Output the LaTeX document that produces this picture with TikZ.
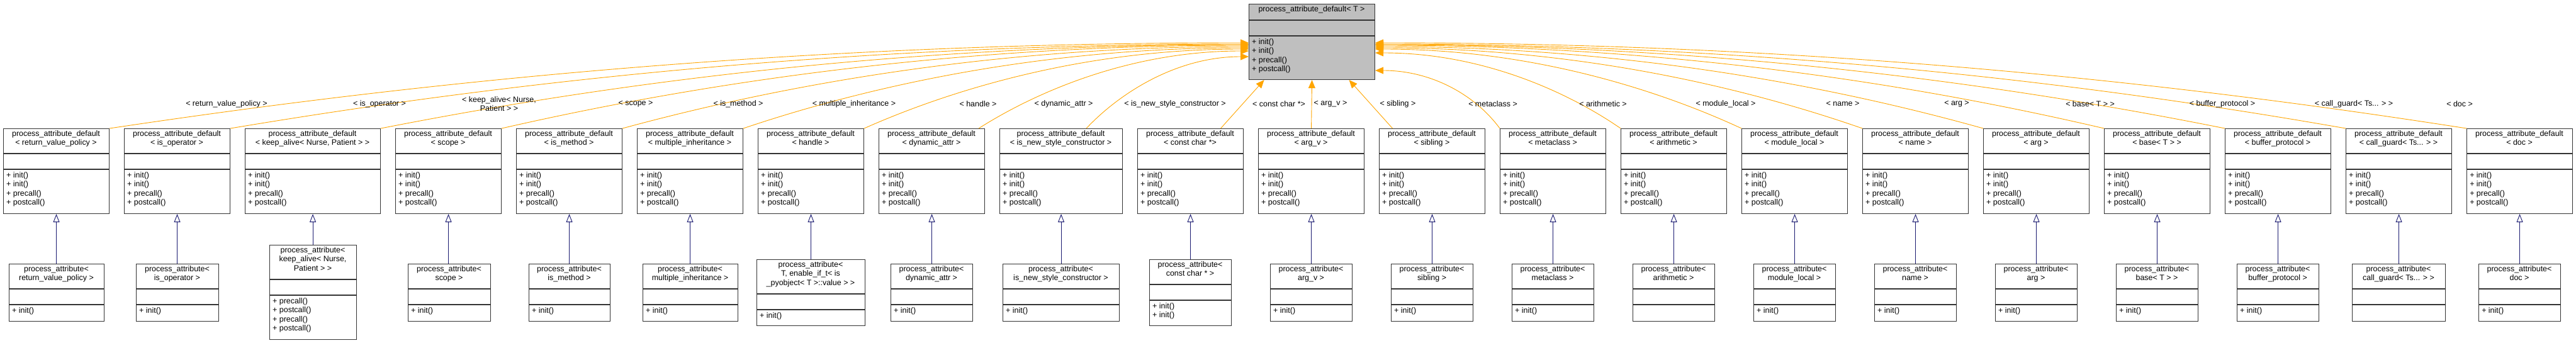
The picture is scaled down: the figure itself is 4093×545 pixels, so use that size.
\documentclass[tikz,border=0pt]{standalone}
\usepackage{fontspec}
\setmainfont{Liberation Sans}
\usetikzlibrary{arrows.meta,calc}

\definecolor{depcolor}{RGB}{255,165,0}
\definecolor{inhcolor}{RGB}{25,25,112}

% one class box: style, name, left, top, right, bottom, rule, title, members
\newcommand{\umlclass}[9]{%
  \node[#1, anchor=north west, minimum width={(#5-#3)*1bp}, minimum height={(#6-#4)*1bp}] (#2) at (#3,#4) {};
  \draw[rule] (#3,#7) -- (#5,#7) (#3,{#7+25}) -- (#5,{#7+25});
  \node[classtitle] (#2-t) at ({(#3+#5)/2},{#4+1}) {#8};
  \node[classops] (#2-m) at ({#3+3},{#7+27}) {#9};
}
\newcommand{\allops}{+ init()\\+ init()\\+ precall()\\+ postcall()}
% orange edges into the left and right side of the base box
\newcommand{\depL}[3]{%
  \draw[dep] (#1) .. controls ({#2+0.2*(1984-#2)},150) and ({1984-0.45*(1984-#2)},#3) .. ([yshift={-(#3-6)*1bp}]main.north west);
}
\newcommand{\depR}[3]{%
  \draw[dep] (#1) .. controls ({#2-0.2*(#2-2184)},150) and ({2184+0.45*(#2-2184)},#3) .. ([yshift={-(#3-6)*1bp}]main.north east);
}

\begin{document}
\begin{tikzpicture}[x=1bp, y=-1bp,
    font=\fontsize{12.5}{14.5}\selectfont,
    box/.style={draw=black!80, line width=1.1bp, fill=white, inner sep=0},
    basebox/.style={box, fill=black!25},
    rule/.style={draw=black!80, line width=1.1bp},
    classtitle/.style={anchor=north, align=center, inner sep=2bp},
    classops/.style={anchor=north west, align=left, inner sep=2bp},
    dep/.style={draw=depcolor, line width=0.9bp, -{Triangle[length=13bp, width=11bp, fill=depcolor]}},
    inh/.style={draw=inhcolor, line width=0.9bp, -{Triangle[open, length=13bp, width=10bp, fill=white]}},
    elabel/.style={align=center, inner sep=1bp}
  ]
  \useasboundingbox (0,0) rectangle (4093,545);

  % base template
  \umlclass{basebox}{main}{1984}{6}{2184}{126}{32}{process\_attribute\_default< T >}{\allops}

  % specialisations
  \umlclass{box}{p-rvp}{5}{204}{173}{339}{244}{process\_attribute\_default\\< return\_value\_policy >}{\allops}
  \umlclass{box}{p-isop}{197}{204}{365}{339}{244}{process\_attribute\_default\\< is\_operator >}{\allops}
  \umlclass{box}{p-keep}{389}{204}{604}{339}{244}{process\_attribute\_default\\< keep\_alive< Nurse, Patient > >}{\allops}
  \umlclass{box}{p-scope}{628}{204}{796}{339}{244}{process\_attribute\_default\\< scope >}{\allops}
  \umlclass{box}{p-meth}{820}{204}{988}{339}{244}{process\_attribute\_default\\< is\_method >}{\allops}
  \umlclass{box}{p-mult}{1012}{204}{1180}{339}{244}{process\_attribute\_default\\< multiple\_inheritance >}{\allops}
  \umlclass{box}{p-hand}{1204}{204}{1372}{339}{244}{process\_attribute\_default\\< handle >}{\allops}
  \umlclass{box}{p-dyn}{1396}{204}{1564}{339}{244}{process\_attribute\_default\\< dynamic\_attr >}{\allops}
  \umlclass{box}{p-isnew}{1588}{204}{1783}{339}{244}{process\_attribute\_default\\< is\_new\_style\_constructor >}{\allops}
  \umlclass{box}{p-const}{1807}{204}{1975}{339}{244}{process\_attribute\_default\\< const char *>}{\allops}
  \umlclass{box}{p-argv}{1999}{204}{2167}{339}{244}{process\_attribute\_default\\< arg\_v >}{\allops}
  \umlclass{box}{p-sib}{2191}{204}{2359}{339}{244}{process\_attribute\_default\\< sibling >}{\allops}
  \umlclass{box}{p-meta}{2383}{204}{2551}{339}{244}{process\_attribute\_default\\< metaclass >}{\allops}
  \umlclass{box}{p-arith}{2575}{204}{2743}{339}{244}{process\_attribute\_default\\< arithmetic >}{\allops}
  \umlclass{box}{p-modl}{2767}{204}{2935}{339}{244}{process\_attribute\_default\\< module\_local >}{\allops}
  \umlclass{box}{p-name}{2959}{204}{3127}{339}{244}{process\_attribute\_default\\< name >}{\allops}
  \umlclass{box}{p-arg}{3151}{204}{3319}{339}{244}{process\_attribute\_default\\< arg >}{\allops}
  \umlclass{box}{p-base}{3343}{204}{3511}{339}{244}{process\_attribute\_default\\< base< T > >}{\allops}
  \umlclass{box}{p-buf}{3535}{204}{3703}{339}{244}{process\_attribute\_default\\< buffer\_protocol >}{\allops}
  \umlclass{box}{p-cg}{3727}{204}{3895}{339}{244}{process\_attribute\_default\\< call\_guard< Ts... > >}{\allops}
  \umlclass{box}{p-doc}{3919}{204}{4087}{339}{244}{process\_attribute\_default\\< doc >}{\allops}

  % derived process_attribute classes
  \umlclass{box}{c-rvp}{14}{419}{165}{510}{459}{process\_attribute<\\return\_value\_policy >}{+ init()}
  \umlclass{box}{c-isop}{216}{419}{347}{510}{459}{process\_attribute<\\is\_operator >}{+ init()}
  \umlclass{box}{c-keep}{428}{389}{566}{539}{444}{process\_attribute<\\keep\_alive< Nurse,\\Patient > >}{+ precall()\\+ postcall()\\+ precall()\\+ postcall()}
  \umlclass{box}{c-scope}{648}{419}{779}{510}{459}{process\_attribute<\\scope >}{+ init()}
  \umlclass{box}{c-meth}{840}{419}{969}{510}{459}{process\_attribute<\\is\_method >}{+ init()}
  \umlclass{box}{c-mult}{1021}{419}{1172}{510}{459}{process\_attribute<\\multiple\_inheritance >}{+ init()}
  \umlclass{box}{c-hand}{1202}{412}{1374}{517}{467}{process\_attribute<\\T, enable\_if\_t< is\\\_pyobject< T >::value > >}{+ init()}
  \umlclass{box}{c-dyn}{1415}{419}{1545}{510}{459}{process\_attribute<\\dynamic\_attr >}{+ init()}
  \umlclass{box}{c-isnew}{1593}{419}{1778}{510}{459}{process\_attribute<\\is\_new\_style\_constructor >}{+ init()}
  \umlclass{box}{c-const}{1826}{412}{1956}{517}{452}{process\_attribute<\\const char * >}{+ init()\\+ init()}
  \umlclass{box}{c-argv}{2018}{419}{2148}{510}{459}{process\_attribute<\\arg\_v >}{+ init()}
  \umlclass{box}{c-sib}{2210}{419}{2340}{510}{459}{process\_attribute<\\sibling >}{+ init()}
  \umlclass{box}{c-meta}{2402}{419}{2532}{510}{459}{process\_attribute<\\metaclass >}{+ init()}
  \umlclass{box}{c-arith}{2594}{419}{2724}{510}{459}{process\_attribute<\\arithmetic >}{}
  \umlclass{box}{c-modl}{2786}{419}{2916}{510}{459}{process\_attribute<\\module\_local >}{+ init()}
  \umlclass{box}{c-name}{2978}{419}{3108}{510}{459}{process\_attribute<\\name >}{+ init()}
  \umlclass{box}{c-arg}{3170}{419}{3300}{510}{459}{process\_attribute<\\arg >}{+ init()}
  \umlclass{box}{c-base}{3362}{419}{3492}{510}{459}{process\_attribute<\\base< T > >}{+ init()}
  \umlclass{box}{c-buf}{3554}{419}{3684}{510}{459}{process\_attribute<\\buffer\_protocol >}{+ init()}
  \umlclass{box}{c-cg}{3737}{419}{3885}{510}{459}{process\_attribute<\\call\_guard< Ts... > >}{}
  \umlclass{box}{c-doc}{3938}{419}{4068}{510}{459}{process\_attribute<\\doc >}{+ init()}

  % inheritance
  \foreach \k in {rvp,isop,keep,scope,meth,mult,hand,dyn,isnew,const,argv,sib,meta,arith,modl,name,arg,base,buf,cg,doc}
    \draw[inh] (c-\k.north -| p-\k.south) -- (p-\k.south);

  % template arguments
  \depL{p-rvp.north east}{173}{68}
  \depL{p-isop.north east}{365}{70}
  \depL{p-keep.north east}{604}{71}
  \depL{p-scope.north east}{796}{72}
  \depL{p-meth.north east}{988}{74}
  \depL{p-mult.north east}{1180}{76}
  \depL{p-hand.north east}{1372}{78}
  \depL{[xshift=-10bp]p-dyn.north east}{1554}{81}
  \depL{[xshift=40bp]p-isnew.north}{1725}{90}
  \draw[dep] ([xshift=48bp]p-const.north) -- ([xshift=-76bp]main.south);
  \draw[dep] (p-argv.north) -- (main.south);
  \draw[dep] ([xshift=-63bp]p-sib.north) -- ([xshift=59bp]main.south);
  \depR{p-meta.north west}{2383}{112}
  \depR{p-arith.north west}{2575}{84}
  \depR{p-modl.north west}{2767}{78}
  \depR{p-name.north west}{2959}{76}
  \depR{p-arg.north west}{3151}{74}
  \depR{p-base.north west}{3343}{72}
  \depR{p-buf.north west}{3535}{71}
  \depR{p-cg.north west}{3727}{70}
  \depR{p-doc.north west}{3919}{68}

  \node[elabel] (l-rvp) at (360,165) {< return\_value\_policy >};
  \node[elabel] (l-isop) at (603,165) {< is\_operator >};
  \node[elabel] (l-keep) at (793,165) {< keep\_alive< Nurse,\\Patient > >};
  \node[elabel] (l-scope) at (1010,165) {< scope >};
  \node[elabel] (l-meth) at (1173,165) {< is\_method >};
  \node[elabel] (l-mult) at (1357,165) {< multiple\_inheritance >};
  \node[elabel] (l-hand) at (1554,165) {< handle >};
  \node[elabel] (l-dyn) at (1690,165) {< dynamic\_attr >};
  \node[elabel] (l-isnew) at (1867,165) {< is\_new\_style\_constructor >};
  \node[elabel] (l-const) at (2032,165) {< const char *>};
  \node[elabel] (l-argv) at (2114,165) {< arg\_v >};
  \node[elabel] (l-sib) at (2221,165) {< sibling >};
  \node[elabel] (l-meta) at (2372,165) {< metaclass >};
  \node[elabel] (l-arith) at (2547,165) {< arithmetic >};
  \node[elabel] (l-modl) at (2742,165) {< module\_local >};
  \node[elabel] (l-name) at (2928,165) {< name >};
  \node[elabel] (l-arg) at (3109,165) {< arg >};
  \node[elabel] (l-base) at (3321,165) {< base< T > >};
  \node[elabel] (l-buf) at (3531,165) {< buffer\_protocol >};
  \node[elabel] (l-cg) at (3740,165) {< call\_guard< Ts... > >};
  \node[elabel] (l-doc) at (3908,165) {< doc >};
\end{tikzpicture}
\end{document}
